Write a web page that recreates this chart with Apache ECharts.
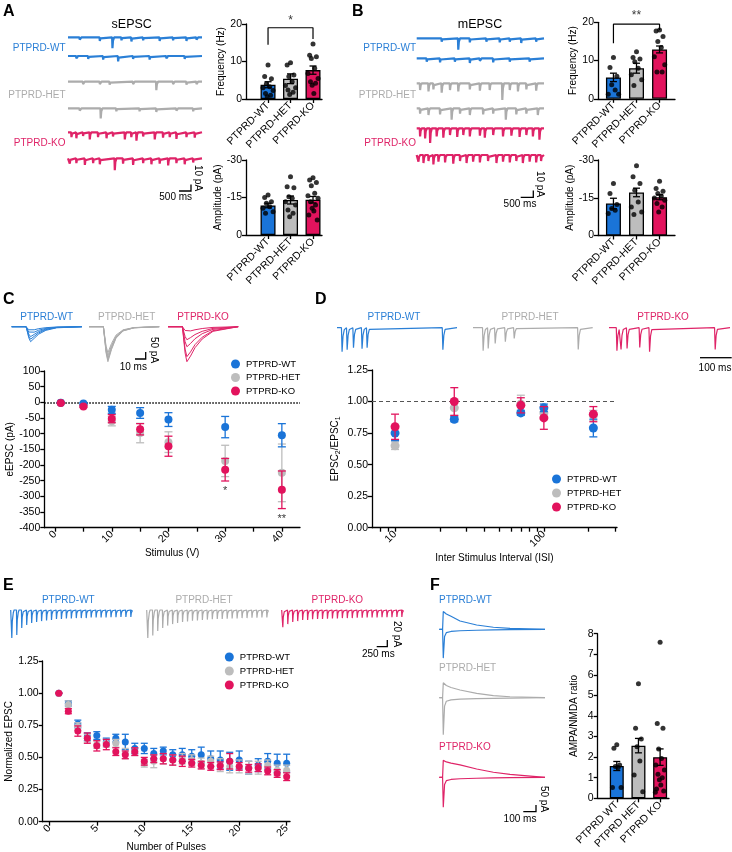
<!DOCTYPE html>
<html>
<head>
<meta charset="UTF-8">
<title>PTPRD synaptic transmission</title>
<script src="https://cdn.jsdelivr.net/npm/echarts@6.0.0/dist/echarts.min.js"></script>
<style>html,body{margin:0;padding:0;background:#fff;}</style>
</head>
<body>
<div id="main" style="width:732px;height:852px;"></div>
<script type="text/javascript">
var FONT = '"Liberation Sans", Arial, sans-serif';
var BLUE = '#1a74d8', GREY = '#bdbdbd', RED = '#e2135d';
var TR_BLUE = '#2a7fd6', TR_GREY = '#acacac', TR_RED = '#df2468';
var genotypes = ['PTPRD-WT', 'PTPRD-HET', 'PTPRD-KO'];
var genotypesF = ['PTPRD WT', 'PTPRD HET', 'PTPRD KO'];

// ---- A: sEPSC frequency / amplitude ----
var sFreqMean = [3.8, 5.4, 7.7];
var sFreqSem = [0.8, 1.3, 1.1];
var sFreqWT = [9.1, 6.0, 5.4, 4.0, 3.3, 3.0, 2.3, 1.5, 1.0, 0.6];
var sFreqHET = [9.7, 9.1, 6.4, 6.0, 4.6, 3.6, 3.0, 2.4, 1.8, 1.2];
var sFreqKO = [14.7, 11.7, 11.3, 10.8, 8.2, 6.8, 5.5, 4.6, 4.2, 3.7, 1.5];
var sAmpMean = [-11.8, -14.0, -14.1];
var sAmpSem = [0.9, 1.6, 1.3];
var sAmpWT = [-16.0, -15.0, -13.3, -12.7, -11.3, -10.7, -9.3, -8.7];
var sAmpHET = [-23.3, -19.3, -18.9, -15.3, -14.7, -13.3, -12.0, -10.0, -8.7, -7.3];
var sAmpKO = [-22.9, -22.0, -21.0, -19.7, -16.7, -15.7, -14.7, -13.3, -12.0, -10.7, -9.6, -8.0, -6.0];

// ---- B: mEPSC frequency / amplitude ----
var mFreqMean = [5.6, 8.0, 12.9];
var mFreqSem = [1.1, 1.3, 0.9];
var mFreqWT = [10.8, 8.2, 5.9, 3.7, 2.3, 1.2, 1.2];
var mFreqHET = [12.3, 10.8, 10.4, 9.7, 8.0, 6.3, 5.0, 3.5];
var mFreqKO = [18.0, 17.7, 16.3, 15.0, 13.4, 11.0, 8.9, 7.0, 7.0];
var mAmpMean = [-12.7, -17.1, -15.2];
var mAmpSem = [2.1, 1.7, 1.0];
var mAmpWT = [-20.7, -16.7, -12.3, -10.7, -10.0, -8.7];
var mAmpHET = [-27.7, -23.3, -20.7, -18.0, -13.3, -11.3, -9.3, -8.3];
var mAmpKO = [-21.6, -18.7, -17.6, -16.7, -15.7, -14.9, -14.0, -12.7, -11.3, -9.3];

// ---- C: input-output ----
var stimV = [1, 5, 10, 15, 20, 30, 40];
var ioWT = [-1, -4, -24, -34, -55, -79, -105];
var ioWTsem = [1, 3, 11, 17, 22, 34, 37];
var ioHET = [-1, -10, -60, -98, -127, -187, -225];
var ioHETsem = [1, 3, 15, 31, 33, 50, 92];
var ioKO = [-2, -13, -52, -86, -140, -215, -279];
var ioKOsem = [1, 3, 13, 18, 32, 36, 60];

// ---- D: paired-pulse ratio ----
var isiMs = [10, 25, 70, 100, 215];
var pprWT = [0.75, 0.86, 0.91, 0.95, 0.79];
var pprWTsem = [0.06, 0.02, 0.02, 0.03, 0.07];
var pprHET = [0.65, 0.95, 0.98, 0.91, 0.89];
var pprHETsem = [0.03, 0.06, 0.07, 0.04, 0.04];
var pprKO = [0.80, 1.00, 0.97, 0.87, 0.90];
var pprKOsem = [0.10, 0.11, 0.06, 0.09, 0.06];

// ---- E: train depression ----
var pulseNo = [1, 2, 3, 4, 5, 6, 7, 8, 9, 10, 11, 12, 13, 14, 15, 16, 17, 18, 19, 20, 21, 22, 23, 24, 25];
var trWT = [1.0, 0.92, 0.76, 0.66, 0.67, 0.62, 0.65, 0.62, 0.57, 0.57, 0.53, 0.55, 0.52, 0.52, 0.51, 0.52, 0.49, 0.48, 0.47, 0.48, 0.42, 0.44, 0.47, 0.455, 0.455];
var trWTsem = [0, 0.02, 0.03, 0.03, 0.03, 0.03, 0.03, 0.06, 0.04, 0.04, 0.04, 0.03, 0.04, 0.05, 0.05, 0.06, 0.06, 0.07, 0.07, 0.07, 0.05, 0.05, 0.06, 0.07, 0.07];
var trHET = [1.0, 0.91, 0.74, 0.65, 0.60, 0.61, 0.61, 0.53, 0.545, 0.455, 0.47, 0.49, 0.48, 0.49, 0.48, 0.455, 0.47, 0.44, 0.43, 0.43, 0.42, 0.42, 0.44, 0.40, 0.40];
var trHETsem = [0, 0.03, 0.03, 0.03, 0.03, 0.03, 0.03, 0.04, 0.03, 0.03, 0.05, 0.04, 0.04, 0.04, 0.04, 0.04, 0.04, 0.05, 0.05, 0.05, 0.05, 0.05, 0.04, 0.04, 0.04];
var trKO = [1.0, 0.86, 0.705, 0.65, 0.59, 0.60, 0.545, 0.52, 0.545, 0.47, 0.49, 0.49, 0.48, 0.47, 0.455, 0.44, 0.43, 0.435, 0.47, 0.43, 0.415, 0.42, 0.395, 0.375, 0.35];
var trKOsem = [0, 0.02, 0.04, 0.04, 0.04, 0.04, 0.03, 0.03, 0.03, 0.03, 0.03, 0.04, 0.04, 0.04, 0.03, 0.03, 0.03, 0.03, 0.06, 0.03, 0.03, 0.03, 0.03, 0.03, 0.03];

// ---- F: AMPA/NMDA ratio ----
var ratioMean = [1.57, 2.56, 2.0];
var ratioSem = [0.22, 0.35, 0.4];
var ratioWT = [2.6, 2.43, 1.62, 1.55, 1.5, 0.52, 0.52];
var ratioHET = [5.57, 3.4, 2.88, 2.5, 1.81, 1.13, 0.32];
var ratioKO = [7.58, 3.63, 3.4, 2.4, 1.94, 1.62, 1.38, 1.17, 1.0, 0.9, 0.65, 0.45, 0.36, 0.3];

// ---- example traces (events: [ms, pA]) ----
var sEvWT1 = [[520,4],[1420,6],[1985,18],[2390,5],[2835,7],[3360,5],[4100,6],[4700,5],[5300,6],[5750,4]];
var sEvWT2 = [[370,4],[900,5],[1570,6],[2240,9],[2910,5],[3650,6],[4400,4],[5220,5]];
var sEvHET1 = [[670,4],[1420,4],[1860,5],[2910,4],[3950,14],[4700,4],[5300,5],[5750,4]];
var sEvHET2 = [[520,4],[1460,17],[2160,5],[3200,5],[3950,6],[4850,4],[5600,5]];
var sEvKO1 = [[150,8],[370,10],[670,6],[970,12],[1340,8],[1720,10],[2010,7],[2540,12],[2830,8],[3060,14],[3360,7],[3880,12],[4250,9],[4550,8],[4850,11],[5300,8],[5670,9]];
var sEvKO2 = [[75,9],[370,8],[750,11],[1120,8],[1420,10],[2090,20],[2460,9],[2910,11],[3360,8],[3730,10],[4100,9],[4480,12],[4850,8],[5220,10],[5600,7]];
var mEvWT1 = [[1065,5],[1775,17],[2270,6],[2980,5],[3550,6],[3980,5],[4470,7],[5110,5]];
var mEvWT2 = [[425,5],[995,6],[1630,5],[2270,7],[2700,4],[3270,6],[3980,5],[4830,5]];
var mEvHET1 = [[140,10],[500,12],[710,9],[1065,14],[1420,10],[1775,12],[2270,9],[2700,11],[3120,10],[3660,25],[3980,10],[4330,12],[4690,9],[5110,11]];
var mEvHET2 = [[140,8],[500,10],[995,9],[1490,17],[1850,8],[2270,10],[2840,9],[3270,8],[3810,17],[4260,9],[4690,8],[5180,10]];
var mEvKO1 = [[140,12],[355,15],[570,22],[850,12],[1135,14],[1420,10],[1730,13],[1990,10],[2270,12],[2700,11],[2910,14],[3270,10],[3690,12],[4050,11],[4400,13],[4690,10],[4970,12],[5250,17]];
var mEvKO2 = [[70,10],[285,12],[500,9],[710,14],[925,10],[1210,11],[1560,13],[1850,9],[2130,12],[2410,10],[2700,11],[3050,9],[3410,12],[3690,10],[3980,11],[4260,9],[4540,12],[4830,10],[5110,11],[5320,9]];

var tC = [0, 16, 19, 21, 25, 30, 38, 50, 78];
var cSweepWT = [[0,0,-22,-29,-22,-14,-7,-2,0],[0,0,-38,-50,-39,-25,-12,-4,0],[0,0,-53,-71,-55,-35,-17,-5,0],[0,0,-67,-89,-69,-44,-21,-6,0],[0,0,-80,-107,-83,-53,-26,-8,0]];
var cSweepHET = [[0,0,-140,-186,-120,-60,-22,-6,0],[0,0,-155,-207,-135,-68,-25,-7,0],[0,0,-169,-225,-146,-74,-27,-7,0],[0,0,-178,-238,-155,-78,-29,-8,0],[0,0,-188,-250,-163,-82,-30,-8,0]];
var cSweepKO = [[0,0,-27,-36,-30,-22,-13,-5,0],[0,0,-70,-93,-78,-56,-33,-12,0],[0,0,-107,-143,-120,-86,-50,-19,0],[0,0,-160,-214,-180,-128,-75,-28,0],[0,0,-188,-250,-210,-150,-88,-33,0]];

var dEvWT = [[15,96],[31,88],[51,80],[78,84],[94,80],[333,88]];
var dEvHET = [[31,92],[47,83],[69,63],[101,56],[129,43],[331,87]];
var dEvKO = [[24,92],[37,87],[56,83],[96,79],[127,96],[334,87]];

var eAmpWT = [93, 83, 60, 50, 43, 40, 37, 35, 33, 30, 30, 28, 28, 27, 27, 27, 25, 25, 25, 25, 24, 24, 23, 23, 23];
var eAmpHET = [93, 85, 70, 60, 52, 47, 43, 40, 38, 36, 35, 33, 32, 31, 30, 30, 29, 28, 28, 27, 27, 26, 26, 25, 25];
var eAmpKO = [57, 47, 40, 37, 33, 33, 31, 30, 30, 29, 28, 28, 27, 27, 27, 26, 26, 25, 25, 25, 24, 24, 24, 23, 23];
var eFirstMs = 25, ePeriodMs = 124;

var fT = [0, 28, 34, 45, 60, 100, 177, 319, 462, 604, 903];
var fNmdaWT = [0, 0, 148, 140, 128, 108, 69, 36, 17, 8, 0];
var fAmpaWT = [0, 0, -240, -60, -28, -18, -12, -8, -5, -3, 0];
var fNmdaHET = [0, 0, 125, 115, 102, 85, 64, 36, 17, 8, 0];
var fAmpaHET = [0, 0, -308, -70, -30, -18, -12, -8, -5, -3, 0];
var fNmdaKO = [0, 0, 141, 136, 128, 118, 103, 69, 42, 25, 0];
var fAmpaKO = [0, 0, -250, -60, -28, -18, -12, -8, -5, -3, 0];

// -------------------------------------------------------------
var chart = echarts.init(document.getElementById('main'));
var option = {animation: false, backgroundColor: '#fff', grid: [], xAxis: [], yAxis: [], series: [], legend: [], graphic: []};
var AX = {color: '#000', width: 1.3};
var BAR_COLORS = [BLUE, GREY, RED];
var JIT = [0, -0.6, 0.6, -0.3, 0.3, -0.9, 0.9, -0.45, 0.45, -0.15, 0.15, -0.75, 0.75, -1, 1];

function addGrid(l, t, w, h) {
    option.grid.push({left: l, top: t, width: w, height: h, containLabel: false, outerBoundsMode: 'none'});
    return option.grid.length - 1;
}
function labelStyle(extra) {
    return Object.assign({color: '#000', fontSize: 10.5, fontFamily: FONT, margin: 4}, extra || {});
}
function nameStyle() {
    return {color: '#000', fontSize: 10, fontFamily: FONT};
}
function valAxis(gi, o) {
    return Object.assign({
        type: 'value', gridIndex: gi, splitLine: {show: false},
        axisLine: {show: true, onZero: false, lineStyle: AX},
        axisTick: {show: true, length: 4, lineStyle: AX},
        axisLabel: labelStyle(),
        nameLocation: 'middle', nameTextStyle: nameStyle()
    }, o);
}

function errBars(gi, pts, color, cap, z) {
    option.series.push({
        type: 'custom', xAxisIndex: gi, yAxisIndex: gi, silent: true, z: z, data: pts, clip: false,
        renderItem: function (params, api) {
            var x = api.value(0), m = api.value(1), e = api.value(2);
            var a = api.coord([x, m + e]), b = api.coord([x, m - e]);
            var st = {stroke: color, lineWidth: 1.3};
            return {type: 'group', children: [
                {type: 'line', shape: {x1: a[0], y1: a[1], x2: b[0], y2: b[1]}, style: st},
                {type: 'line', shape: {x1: a[0] - cap, y1: a[1], x2: a[0] + cap, y2: a[1]}, style: st},
                {type: 'line', shape: {x1: b[0] - cap, y1: b[1], x2: b[0] + cap, y2: b[1]}, style: st}
            ]};
        }
    });
}

// bar + dot plot
function barPanel(o) {
    var gi = addGrid(o.left, o.top, o.width, o.height);
    option.xAxis.push(valAxis(gi, {
        min: o.xMin, max: o.xMax,
        axisTick: {show: true, length: 4, lineStyle: AX, customValues: [1, 2, 3]},
        axisLabel: labelStyle({customValues: [1, 2, 3], rotate: 45, margin: 5,
            formatter: function (v) { return o.names[Math.round(v) - 1]; }})
    }));
    option.yAxis.push(valAxis(gi, {
        min: o.yMin, max: o.yMax, interval: o.yInt, inverse: !!o.inverse,
        name: o.yName, nameGap: o.nameGap
    }));
    option.series.push({
        type: 'bar', xAxisIndex: gi, yAxisIndex: gi, barWidth: o.barW, silent: true, z: 2,
        itemStyle: {borderColor: '#000', borderWidth: 1.3},
        data: o.means.map(function (m, i) { return {value: [i + 1, m], itemStyle: {color: BAR_COLORS[i]}}; })
    });
    errBars(gi, o.means.map(function (m, i) { return [i + 1, m, o.sems[i]]; }), '#000', 3.5, 3);
    var pts = [];
    o.dots.forEach(function (arr, i) {
        arr.forEach(function (v, j) { pts.push([i + 1 + JIT[j % JIT.length] * o.jw, v]); });
    });
    option.series.push({
        type: 'scatter', xAxisIndex: gi, yAxisIndex: gi, data: pts, symbolSize: 5, silent: true, z: 4,
        itemStyle: {color: '#000'}
    });
    return gi;
}

function bracket(gi, pts, star, starPos) {
    option.series.push({type: 'line', xAxisIndex: gi, yAxisIndex: gi, data: pts, symbol: 'none', silent: true,
        clip: false, lineStyle: {color: '#000', width: 1.2}, z: 5});
    option.series.push({type: 'scatter', xAxisIndex: gi, yAxisIndex: gi, data: [starPos], symbolSize: 1, silent: true,
        clip: false, itemStyle: {color: 'rgba(0,0,0,0)'},
        label: {show: true, position: 'inside', formatter: star, color: '#000', fontSize: 12, fontFamily: FONT}});
}

function groupSeries(gi, xs, means, sems, name, color, size, cap, z) {
    errBars(gi, xs.map(function (x, i) { return [x, means[i], sems[i]]; }), color, cap, z);
    var s = {type: 'scatter', name: name, xAxisIndex: gi, yAxisIndex: gi, silent: true, z: z + 1,
        data: xs.map(function (x, i) { return [x, means[i]]; }),
        symbolSize: size, itemStyle: {color: color, opacity: 1}};
    option.series.push(s);
    return s;
}

// trace helpers
function addTrace(x0, x1, tMax, yb, ppu, up, down) {
    var gi = addGrid(x0, yb - up * ppu, x1 - x0, (up + down) * ppu);
    option.xAxis.push({type: 'value', gridIndex: gi, min: 0, max: tMax, show: false});
    option.yAxis.push({type: 'value', gridIndex: gi, min: -down, max: up, show: false});
    return gi;
}
function traceLine(gi, data, color, w) {
    option.series.push({type: 'line', xAxisIndex: gi, yAxisIndex: gi, data: data, symbol: 'none', silent: true,
        clip: false, lineStyle: {color: color, width: w}});
}
function spikeTrain(events, kern, tMax) {
    var pts = [[0, 0]];
    events.forEach(function (e) {
        kern.forEach(function (k) { pts.push([e[0] + k[0], -e[1] * k[1]]); });
    });
    pts.push([tMax, 0]);
    return pts;
}
function pairs(ts, vs) { return ts.map(function (t, i) { return [t, vs[i]]; }); }

function txt(x, y, s, color, size, o) {
    o = o || {};
    var el = {type: 'text', x: x, y: y, silent: true, style: {
        text: s, fill: color || '#000', fontSize: size || 10, fontFamily: FONT, fontWeight: o.bold ? 'bold' : 'normal',
        align: o.align || 'center', textAlign: o.align || 'center',
        verticalAlign: o.va || 'middle', textVerticalAlign: o.va || 'middle'}};
    if (o.rot) el.rotation = o.rot;
    option.graphic.push(el);
}
function poly(points) {
    option.graphic.push({type: 'polyline', silent: true, shape: {points: points},
        style: {stroke: '#000', lineWidth: 1.3, fill: null}});
}

// ================= Panel A =================
var gA1 = barPanel({left: 246, top: 24, width: 76, height: 75, xMin: 0.02, xMax: 3.4, names: genotypes,
    yMin: 0, yMax: 20, yInt: 10, yName: 'Frequency (Hz)', nameGap: 18, barW: 15, jw: 0.25,
    means: sFreqMean, sems: sFreqSem, dots: [sFreqWT, sFreqHET, sFreqKO]});
bracket(gA1, [[1, 14.5], [1, 19.0], [3, 19.0], [3, 16.0]], '*', [2, 20.8]);
barPanel({left: 246, top: 160, width: 76, height: 75, xMin: 0.02, xMax: 3.4, names: genotypes,
    yMin: -30, yMax: 0, yInt: 15, inverse: true, yName: 'Amplitude (pA)', nameGap: 18, barW: 15, jw: 0.25,
    means: sAmpMean, sems: sAmpSem, dots: [sAmpWT, sAmpHET, sAmpKO]});

var sKern = [[-10, 0], [5, 1], [30, 0.3], [80, 0]];
[[sEvWT1, 37.3, TR_BLUE], [sEvWT2, 56, TR_BLUE], [sEvHET1, 81.7, TR_GREY], [sEvHET2, 108.3, TR_GREY],
 [sEvKO1, 132.3, TR_RED], [sEvKO2, 158.3, TR_RED]].forEach(function (r) {
    var gi = addTrace(68, 202, 6000, r[1], 0.6, 6, 30);
    traceLine(gi, spikeTrain(r[0], sKern, 6000), r[2], 2.2);
});
txt(3, 4, 'A', '#000', 16, {bold: true, align: 'left', va: 'top'});
txt(131.7, 25, 'sEPSC', '#000', 12.5);
txt(65.5, 48, 'PTPRD-WT', TR_BLUE, 10, {align: 'right'});
txt(65.5, 95, 'PTPRD-HET', TR_GREY, 10, {align: 'right'});
txt(65.5, 143, 'PTPRD-KO', TR_RED, 10, {align: 'right'});
poly([[179, 191], [191, 191], [191, 184.5]]);
txt(175.7, 197.5, '500 ms', '#000', 10);
txt(197.5, 178, '10 pA', '#000', 10, {rot: -Math.PI / 2});

// ================= Panel B =================
var gB1 = barPanel({left: 598, top: 22.3, width: 77, height: 76.5, xMin: 0.33, xMax: 3.67, names: genotypes,
    yMin: 0, yMax: 20, yInt: 10, yName: 'Frequency (Hz)', nameGap: 20, barW: 15, jw: 0.25,
    means: mFreqMean, sems: mFreqSem, dots: [mFreqWT, mFreqHET, mFreqKO]});
bracket(gB1, [[1, 14.5], [1, 19.5], [3, 19.5], [3, 18.0]], '**', [2, 21.6]);
barPanel({left: 598, top: 160, width: 77, height: 75.5, xMin: 0.33, xMax: 3.67, names: genotypes,
    yMin: -30, yMax: 0, yInt: 15, inverse: true, yName: 'Amplitude (pA)', nameGap: 20, barW: 15, jw: 0.25,
    means: mAmpMean, sems: mAmpSem, dots: [mAmpWT, mAmpHET, mAmpKO]});

[[mEvWT1, 38.3, TR_BLUE], [mEvWT2, 58.3, TR_BLUE], [mEvHET1, 83.3, TR_GREY], [mEvHET2, 108.3, TR_GREY],
 [mEvKO1, 128.3, TR_RED], [mEvKO2, 155, TR_RED]].forEach(function (r) {
    var gi = addTrace(416.7, 544, 5450, r[1], 0.67, 6, 30);
    traceLine(gi, spikeTrain(r[0], sKern, 5450), r[2], 2.2);
});
txt(352, 4, 'B', '#000', 16, {bold: true, align: 'left', va: 'top'});
txt(480, 25, 'mEPSC', '#000', 12.5);
txt(416, 48, 'PTPRD-WT', TR_BLUE, 10, {align: 'right'});
txt(416, 95, 'PTPRD-HET', TR_GREY, 10, {align: 'right'});
txt(416, 143, 'PTPRD-KO', TR_RED, 10, {align: 'right'});
poly([[520.7, 197.3], [533.3, 197.3], [533.3, 190.5]]);
txt(520, 204, '500 ms', '#000', 10);
txt(540, 184, '10 pA', '#000', 10, {rot: -Math.PI / 2});

// ================= Panel C =================
var gC = addGrid(44.3, 371, 255.7, 156.7);
option.xAxis.push(valAxis(gC, {min: -1.9, max: 43.2,
    axisTick: {show: true, length: 4, lineStyle: AX, customValues: [0, 5, 10, 15, 20, 25, 30, 35, 40]},
    axisLabel: labelStyle({customValues: [0, 10, 20, 30, 40], rotate: 45, margin: 5}),
    name: 'Stimulus (V)', nameGap: 21}));
option.yAxis.push(valAxis(gC, {min: -400, max: 100, interval: 50, name: 'eEPSC (pA)', nameGap: 27}));
groupSeries(gC, stimV, ioHET, ioHETsem, 'PTPRD-HET', GREY, 8, 4, 3);
var cWT = groupSeries(gC, stimV, ioWT, ioWTsem, 'PTPRD-WT', BLUE, 8, 4, 5);
groupSeries(gC, stimV, ioKO, ioKOsem, 'PTPRD-KO', RED, 8, 4, 7);
cWT.markLine = {symbol: 'none', silent: true, label: {show: false}, data: [{yAxis: 0}],
    lineStyle: {color: '#000', type: 'dotted', width: 1.5}};
option.series.push({type: 'scatter', xAxisIndex: gC, yAxisIndex: gC, symbolSize: 1, silent: true, clip: false,
    itemStyle: {color: 'rgba(0,0,0,0)'}, data: [{value: [30, -282], star: '*'}, {value: [40, -372], star: '**'}],
    label: {show: true, position: 'inside', color: '#000', fontSize: 11, fontFamily: FONT,
        formatter: function (p) { return p.data.star; }}});
option.legend.push({data: genotypes, orient: 'vertical', left: 231, top: 359, padding: 0, itemGap: 3.5,
    itemWidth: 9, itemHeight: 9, icon: 'circle', selectedMode: false,
    textStyle: {color: '#000', fontSize: 9.5, fontFamily: FONT, padding: [0, 0, 0, 1]}});

var cT = [[cSweepWT, 11.7, TR_BLUE, 78], [cSweepHET, 89, TR_GREY, 82], [cSweepKO, 168, TR_RED, 80]];
cT.forEach(function (r) {
    var gi = addTrace(r[1], r[1] + r[3] * 0.9, r[3], 326.7, 0.14, 10, 260);
    r[0].forEach(function (sw) { traceLine(gi, pairs(tC, sw), r[2], 1); });
});
txt(3, 292, 'C', '#000', 16, {bold: true, align: 'left', va: 'top'});
txt(46.7, 317.3, 'PTPRD-WT', TR_BLUE, 10);
txt(126.7, 317.3, 'PTPRD-HET', TR_GREY, 10);
txt(203, 317.3, 'PTPRD-KO', TR_RED, 10);
poly([[135, 359], [145.7, 359], [145.7, 352]]);
txt(133.3, 367.5, '10 ms', '#000', 10);
txt(154, 350, '50 pA', '#000', 10, {rot: -Math.PI / 2});

// ================= Panel D =================
var gD = addGrid(372, 370, 245, 157.7);
option.xAxis.push(valAxis(gD, {type: 'log', logBase: 10, min: 7, max: 310,
    axisTick: {show: true, length: 4, lineStyle: AX, customValues: [8, 9, 10, 20, 30, 40, 50, 60, 70, 80, 90, 100, 200, 300]},
    axisLabel: labelStyle({customValues: [10, 100], rotate: 45, margin: 5}),
    minorTick: {show: false},
    name: 'Inter Stimulus Interval (ISI)', nameGap: 26}));
option.yAxis.push(valAxis(gD, {min: 0, max: 1.25, interval: 0.25,
    axisLabel: labelStyle({formatter: function (v) { return v.toFixed(2); }}),
    name: 'EPSC{sub|2}/EPSC{sub|1}', nameGap: 30,
    nameTextStyle: {color: '#000', fontSize: 10, fontFamily: FONT,
        rich: {sub: {fontSize: 7, fontFamily: FONT, color: '#000', padding: [7, 0, 0, 0]}}}}));
groupSeries(gD, isiMs, pprHET, pprHETsem, 'PTPRD-HET', GREY, 9, 4, 3);
var dWT = groupSeries(gD, isiMs, pprWT, pprWTsem, 'PTPRD-WT', BLUE, 9, 4, 5);
groupSeries(gD, isiMs, pprKO, pprKOsem, 'PTPRD-KO', RED, 9, 4, 7);
dWT.markLine = {symbol: 'none', silent: true, label: {show: false}, data: [{yAxis: 1}],
    lineStyle: {color: '#555', type: [4, 3], width: 1.2}};
option.legend.push({data: genotypes, orient: 'vertical', left: 552, top: 474, padding: 0, itemGap: 4,
    itemWidth: 9, itemHeight: 9, icon: 'circle', selectedMode: false,
    textStyle: {color: '#000', fontSize: 9.5, fontFamily: FONT, padding: [0, 0, 0, 1]}});

var dKern = [[-1, 0], [1, 1], [4, 0.35], [8, 0.08], [12, 0]];
[[dEvWT, 337, 457, TR_BLUE], [dEvHET, 473, 592.7, TR_GREY], [dEvKO, 609, 730, TR_RED]].forEach(function (r) {
    var T = (r[2] - r[1]) / 0.317;
    var gi = addTrace(r[1], r[2], T, 327.7, 0.25, 10, 110);
    traceLine(gi, spikeTrain(r[0], dKern, T), r[3], 1.2);
});
txt(315, 292, 'D', '#000', 16, {bold: true, align: 'left', va: 'top'});
txt(394, 317.3, 'PTPRD-WT', TR_BLUE, 10);
txt(530, 317.3, 'PTPRD-HET', TR_GREY, 10);
txt(663, 317.3, 'PTPRD-KO', TR_RED, 10);
poly([[700, 357.7], [731.7, 357.7]]);
txt(715, 368, '100 ms', '#000', 10);

// ================= Panel E =================
var gE = addGrid(42.7, 661, 247.3, 160.7);
option.xAxis.push(valAxis(gE, {min: -0.7, max: 25.35,
    axisTick: {show: true, length: 4, lineStyle: AX, customValues: [0, 5, 10, 15, 20, 25]},
    axisLabel: labelStyle({customValues: [0, 5, 10, 15, 20, 25], rotate: 45, margin: 5}),
    name: 'Number of Pulses', nameGap: 20}));
option.yAxis.push(valAxis(gE, {min: 0, max: 1.25, interval: 0.25,
    axisLabel: labelStyle({formatter: function (v) { return v.toFixed(2); }}),
    name: 'Normalized EPSC', nameGap: 27}));
var eWT = groupSeries(gE, pulseNo, trWT, trWTsem, 'PTPRD-WT', BLUE, 7, 3.5, 3);
groupSeries(gE, pulseNo, trHET, trHETsem, 'PTPRD-HET', GREY, 7, 3.5, 5);
groupSeries(gE, pulseNo, trKO, trKOsem, 'PTPRD-KO', RED, 7, 3.5, 7);
eWT.markLine = {symbol: 'none', silent: true, label: {show: false},
    data: [[{coord: [1, 1]}, {coord: [26.3, 1]}]],
    lineStyle: {color: '#000', type: 'dotted', width: 1.5}};
option.legend.push({data: genotypes, orient: 'vertical', left: 224.8, top: 652, padding: 0, itemGap: 4,
    itemWidth: 9, itemHeight: 9, icon: 'circle', selectedMode: false,
    textStyle: {color: '#000', fontSize: 9.5, fontFamily: FONT, padding: [0, 0, 0, 1]}});

var eKern = [[-5, 0], [3, 1], [15, 0.4], [40, 0.1], [60, 0]];
[[eAmpWT, 10.7, TR_BLUE], [eAmpHET, 146.7, TR_GREY], [eAmpKO, 281.7, TR_RED]].forEach(function (r) {
    var ev = r[0].map(function (a, i) { return [eFirstMs + ePeriodMs * i, a]; });
    var gi = addTrace(r[1], r[1] + 120, 3000, 610, 0.3, 10, 100);
    traceLine(gi, spikeTrain(ev, eKern, 3000), r[2], 1.2);
});
txt(3, 578, 'E', '#000', 16, {bold: true, align: 'left', va: 'top'});
txt(68.3, 600, 'PTPRD-WT', TR_BLUE, 10);
txt(204, 600, 'PTPRD-HET', TR_GREY, 10);
txt(337.3, 600, 'PTPRD-KO', TR_RED, 10);
poly([[376.7, 646.7], [387.3, 646.7], [387.3, 640]]);
txt(378.3, 654, '250 ms', '#000', 10);
txt(396.7, 634, '20 pA', '#000', 10, {rot: -Math.PI / 2});

// ================= Panel F =================
barPanel({left: 597.7, top: 633.7, width: 71.3, height: 164.6, xMin: 0.12, xMax: 3.41, names: genotypesF,
    yMin: 0, yMax: 8, yInt: 1, yName: 'AMPA/NMDA ratio', nameGap: 18, barW: 14, jw: 0.22,
    means: ratioMean, sems: ratioSem, dots: [ratioWT, ratioHET, ratioKO]});

[[fNmdaWT, fAmpaWT, 629.3, TR_BLUE], [fNmdaHET, fAmpaHET, 697.7, TR_GREY], [fNmdaKO, fAmpaKO, 777.3, TR_RED]].forEach(function (r) {
    var gi = addTrace(439.3, 545, 903, r[2], 0.12, 160, 320);
    traceLine(gi, pairs(fT, r[0]), r[3], 1.2);
    traceLine(gi, pairs(fT, r[1]), r[3], 1.2);
});
txt(430, 578, 'F', '#000', 16, {bold: true, align: 'left', va: 'top'});
txt(439, 600, 'PTPRD-WT', TR_BLUE, 10, {align: 'left'});
txt(439, 668, 'PTPRD-HET', TR_GREY, 10, {align: 'left'});
txt(439, 747, 'PTPRD-KO', TR_RED, 10, {align: 'left'});
poly([[523.3, 811.7], [536, 811.7], [536, 805]]);
txt(520, 819, '100 ms', '#000', 10);
txt(543.3, 799, '50 pA', '#000', 10, {rot: -Math.PI / 2});

chart.setOption(option);
</script>
</body>
</html>
